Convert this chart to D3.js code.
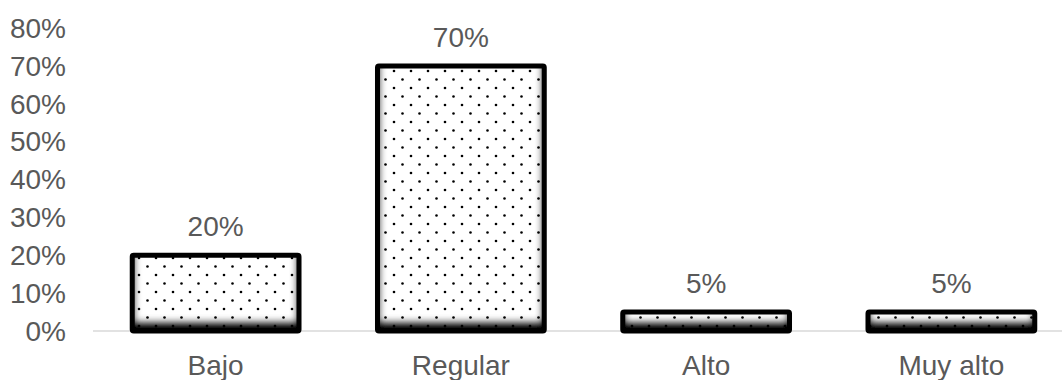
<!DOCTYPE html>
<html>
<head>
<meta charset="utf-8">
<script src="https://cdn.jsdelivr.net/npm/d3@7"></script>
<style>
  html, body { margin: 0; padding: 0; background: #fff; }
  svg { display: block; }
  text { font-family: "Liberation Sans", Arial, sans-serif; fill: #595959; }
</style>
</head>
<body>
<svg id="chart" width="1062" height="380"></svg>
<script>
// Nivel distribution
const categories = ["Bajo", "Regular", "Alto", "Muy alto"];
const values = [0.20, 0.70, 0.05, 0.05];
const yTicks = [0, 0.1, 0.2, 0.3, 0.4, 0.5, 0.6, 0.7, 0.8];

const W = 1062, H = 380;
const FS = 28; // label font size
const svg = d3.select("#chart");

const x = d3.scaleBand().domain(categories).range([93, 1074]).paddingInner(0.32).paddingOuter(0.16);
const y = d3.scaleLinear().domain([0, 0.8]).range([331, 28]);
const pct = d3.format(".0%");

const defs = svg.append("defs");

// dotted fill: staggered dots on white
const pat = defs.append("pattern")
  .attr("id", "dots").attr("patternUnits", "userSpaceOnUse")
  .attr("width", 17).attr("height", 17);
pat.append("rect").attr("width", 17).attr("height", 17).attr("fill", "#fff");
pat.append("circle").attr("cx", 3).attr("cy", 3).attr("r", 1.3).attr("fill", "#000");
pat.append("circle").attr("cx", 11.5).attr("cy", 11.5).attr("r", 1.3).attr("fill", "#000");

// inner shadow, heavier toward the bottom edge
const f = defs.append("filter").attr("id", "inner")
  .attr("filterUnits", "userSpaceOnUse")
  .attr("x", 0).attr("y", 0).attr("width", W).attr("height", H);
f.append("feComponentTransfer").attr("in", "SourceAlpha").attr("result", "inv")
  .append("feFuncA").attr("type", "table").attr("tableValues", "1 0");
f.append("feGaussianBlur").attr("in", "inv").attr("stdDeviation", 4.5).attr("result", "blur");
f.append("feOffset").attr("in", "blur").attr("dy", -7).attr("result", "off");
f.append("feFlood").attr("flood-color", "#000").attr("result", "col");
f.append("feComposite").attr("in", "col").attr("in2", "off").attr("operator", "in").attr("result", "sh");
f.append("feComposite").attr("in", "sh").attr("in2", "SourceAlpha").attr("operator", "in").attr("result", "shIn");
const m = f.append("feMerge");
m.append("feMergeNode").attr("in", "SourceGraphic");
m.append("feMergeNode").attr("in", "shIn");
m.append("feMergeNode").attr("in", "shIn");
m.append("feMergeNode").attr("in", "shIn");

// y tick labels
svg.append("g").selectAll("text").data(yTicks).join("text")
  .attr("x", 66).attr("y", d => y(d)).attr("dy", "0.35em")
  .attr("text-anchor", "end").attr("font-size", FS)
  .text(d => pct(d));

// baseline
svg.append("line").attr("x1", 93).attr("x2", W).attr("y1", y(0)).attr("y2", y(0))
  .attr("stroke", "#d9d9d9").attr("stroke-width", 1.5);

const bars = svg.append("g").selectAll("g").data(categories).join("g");

bars.append("rect")
  .attr("x", d => x(d)).attr("width", x.bandwidth())
  .attr("y", (d, i) => y(values[i])).attr("height", (d, i) => y(0) - y(values[i]))
  .attr("fill", "url(#dots)").attr("filter", "url(#inner)");

bars.append("rect")
  .attr("x", d => x(d)).attr("width", x.bandwidth())
  .attr("y", (d, i) => y(values[i])).attr("height", (d, i) => y(0) - y(values[i]))
  .attr("rx", 1.5)
  .attr("fill", "none").attr("stroke", "#000").attr("stroke-width", 5);

// value labels
bars.append("text")
  .attr("x", d => x(d) + x.bandwidth() / 2)
  .attr("y", (d, i) => y(values[i]) - 19)
  .attr("text-anchor", "middle").attr("font-size", FS)
  .text((d, i) => pct(values[i]));

// category labels
svg.append("g").selectAll("text").data(categories).join("text")
  .attr("x", d => x(d) + x.bandwidth() / 2).attr("y", 375)
  .attr("text-anchor", "middle").attr("font-size", FS)
  .text(d => d);
</script>
</body>
</html>
